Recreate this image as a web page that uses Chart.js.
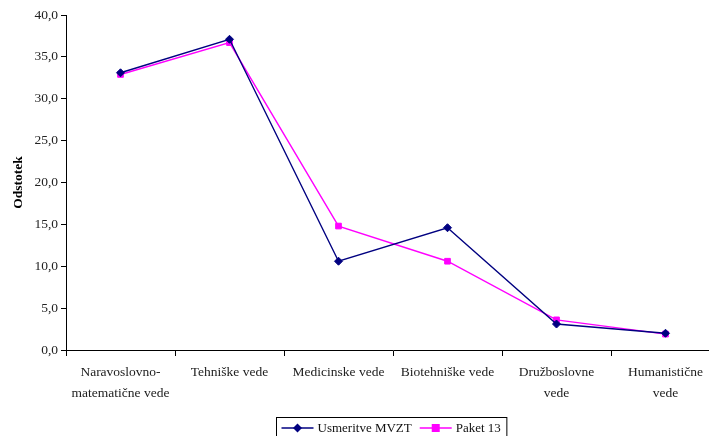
<!DOCTYPE html>
<html>
<head>
<meta charset="utf-8">
<script src="https://cdn.jsdelivr.net/npm/chart.js@4/dist/chart.umd.min.js"></script>
<style>
  html, body { margin: 0; padding: 0; background: #fff; overflow: hidden; width: 709px; height: 436px; }
  canvas { display: block; }
</style>
</head>
<body>
<canvas id="c" width="784" height="436"></canvas>
<script>
// Shares of fields of science (percent)
const categories = [
  ["Naravoslovno-", "matematične vede"],
  "Tehniške vede",
  "Medicinske vede",
  "Biotehniške vede",
  ["Družboslovne", "vede"],
  ["Humanistične", "vede"]
];
const usmeritveMVZT = [33.1, 37.1, 10.6, 14.6, 3.1, 2.0];
const paket13 = [32.9, 36.7, 14.8, 10.6, 3.6, 1.9];
const yTicks = [0, 5, 10, 15, 20, 25, 30, 35, 40];

const FONT = "'Liberation Serif', 'Times New Roman', serif";

// Boxed legend at the bottom with line-and-marker samples
const boxedLegend = {
  id: 'boxedLegend',
  afterDraw(chart) {
    const ctx = chart.ctx;
    const ds = chart.data.datasets;
    ctx.save();
    ctx.font = "13px " + FONT;
    const sample = 32, gapText = 4, gapItem = 8, padL = 5, padR = 6;
    const widths = ds.map(d => sample + gapText + ctx.measureText(d.label).width);
    const total = padL + widths.reduce((a, b) => a + b, 0) + gapItem * (ds.length - 1) + padR;
    const area = chart.chartArea;
    const cx = (area.left + area.right) / 2;
    const left = Math.round(cx - total / 2) - 1.5;
    const top = 417.5, h = 21;
    ctx.strokeStyle = '#000';
    ctx.lineWidth = 1;
    ctx.strokeRect(left, top, total, h);
    let x = left + padL;
    const yMid = top + h / 2;
    ds.forEach((d, i) => {
      ctx.strokeStyle = d.borderColor;
      ctx.lineWidth = 1.5;
      ctx.beginPath();
      ctx.moveTo(x, yMid);
      ctx.lineTo(x + sample, yMid);
      ctx.stroke();
      ctx.fillStyle = d.backgroundColor;
      ctx.beginPath();
      if (d.pointStyle === 'rect') {
        ctx.rect(x + sample / 2 - 4, yMid - 4, 8, 8);
      } else {
        ctx.moveTo(x + sample / 2, yMid - 4.5);
        ctx.lineTo(x + sample / 2 + 4.5, yMid);
        ctx.lineTo(x + sample / 2, yMid + 4.5);
        ctx.lineTo(x + sample / 2 - 4.5, yMid);
        ctx.closePath();
      }
      ctx.fill();
      ctx.fillStyle = '#111';
      ctx.textBaseline = 'middle';
      ctx.textAlign = 'left';
      ctx.fillText(d.label, x + sample + gapText, yMid + 1);
      x += widths[i] + gapItem;
    });
    ctx.restore();
  }
};

new Chart(document.getElementById('c'), {
  type: 'line',
  data: {
    labels: categories,
    datasets: [
      {
        label: 'Usmeritve MVZT',
        data: usmeritveMVZT,
        borderColor: '#000080',
        backgroundColor: '#000080',
        borderWidth: 1.4,
        pointStyle: 'rectRot',
        pointRadius: 4,
        pointBorderWidth: 1,
        tension: 0
      },
      {
        label: 'Paket 13',
        data: paket13,
        borderColor: '#ff00ff',
        backgroundColor: '#ff00ff',
        borderWidth: 1.4,
        pointStyle: 'rect',
        pointRadius: 4,
        pointBorderWidth: 1,
        tension: 0
      }
    ]
  },
  options: {
    responsive: false,
    animation: false,
    layout: { padding: { top: 15, right: 64, bottom: 0, left: 0 } },
    plugins: {
      legend: { display: false },
      tooltip: { enabled: false }
    },
    scales: {
      x: {
        offset: true,
        grid: {
          offset: true,
          drawOnChartArea: false,
          drawTicks: true,
          tickLength: 6,
          color: '#000'
        },
        border: { color: '#000', width: 1 },
        ticks: {
          maxRotation: 0,
          autoSkip: false,
          padding: 6,
          color: '#222',
          font: { family: FONT, size: 13.5, lineHeight: 1.55 }
        },
        afterFit(scale) { scale.height = 86; }
      },
      y: {
        min: 0,
        max: 40,
        afterBuildTicks(scale) { scale.ticks = yTicks.map(v => ({ value: v })); },
        grid: {
          drawOnChartArea: false,
          drawTicks: true,
          tickLength: 5,
          color: '#000'
        },
        border: { color: '#000', width: 1 },
        ticks: {
          padding: 3,
          color: '#222',
          font: { family: FONT, size: 13.5 },
          callback: v => v.toFixed(1).replace('.', ',')
        },
        title: {
          display: true,
          text: 'Odstotek',
          color: '#000',
          font: { family: FONT, size: 13.5, weight: 'bold' },
          padding: { top: 10, bottom: 10 }
        },
        afterFit(scale) { scale.width = 66; }
      }
    }
  },
  plugins: [boxedLegend]
});
</script>
</body>
</html>
